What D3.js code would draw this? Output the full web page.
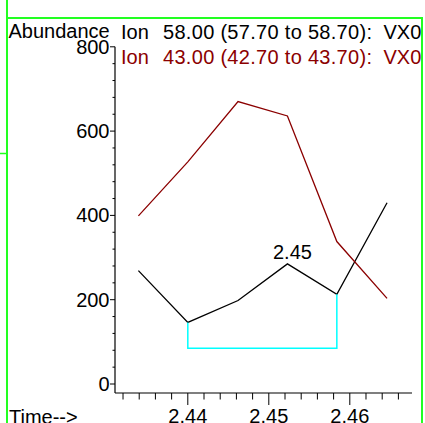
<!DOCTYPE html>
<html>
<head>
<meta charset="utf-8">
<script src="https://cdn.jsdelivr.net/npm/d3@7"></script>
<style>
  body { margin: 0; background: #fff; }
  svg { display: block; font-family: "Liberation Sans", Arial, sans-serif; }
</style>
</head>
<body>
<div class="chart"></div>
<script>
// retention times of the scans (minutes)
const times = [2.4339, 2.4400, 2.4462, 2.4523, 2.4584, 2.4646];
// ion 58 and ion 43 abundances
const ion58 = [269, 146, 198, 285, 213, 430];
const ion43 = [399, 527, 670, 636, 338, 203];
const ionNames = ['58.00 (57.70 to 58.70):', '43.00 (42.70 to 43.70):'];
const ionFile = 'VX0101.D\\data.ms';
const ionColors = ['#000000', '#8b0000'];
// integration baseline of ion 58
const baseIdx = [1, 4];
const baseLevel = 85;
const peakLabel = '2.45';
const yTicks = [0, 200, 400, 600, 800];
const yMinor = d3.range(0, 801, 40);
const xTicks = [2.44, 2.45, 2.46];
const xMinor = d3.range(2.432, 2.4661, 0.002);

const width = 425, height = 423;

const svg = d3.select('.chart')
    .append('svg')
    .attr('width', width)
    .attr('height', height);

const x = d3.scaleLinear().domain([2.43101, 2.46768]).range([115, 412]);
const y = d3.scaleLinear().domain([-21.35, 800]).range([393, 46.8]);

// green frame
const frame = svg.append('g').attr('stroke', '#22ff22').attr('fill', 'none');
frame.append('path').attr('stroke-width', 2).attr('d', 'M7,0V423M7,18H422V423');
frame.append('path').attr('stroke-width', 1.5).attr('d', 'M0,153.5H7');

svg.append('defs').append('clipPath').attr('id', 'clip')
    .append('rect').attr('x', 8).attr('y', 19).attr('width', 413).attr('height', 404);

const g = svg.append('g').attr('clip-path', 'url(#clip)');

// axes
g.append('line')
    .attr('x1', x.range()[0]).attr('x2', x.range()[0])
    .attr('y1', y(800)).attr('y2', y.range()[0])
    .attr('stroke', '#000').attr('stroke-width', 1.2);
g.append('line')
    .attr('x1', x.range()[0]).attr('x2', x.range()[1])
    .attr('y1', y.range()[0]).attr('y2', y.range()[0])
    .attr('stroke', '#000').attr('stroke-width', 1.2);

g.selectAll('.yminor')
    .data(yMinor)
    .enter()
    .append('line')
    .attr('x1', d => yTicks.includes(d) ? 110 : 112.5)
    .attr('x2', 115)
    .attr('y1', d => y(d)).attr('y2', d => y(d))
    .attr('stroke', '#000').attr('stroke-width', 1);

g.selectAll('.ylab')
    .data(yTicks)
    .enter()
    .append('text')
    .attr('x', 109.5)
    .attr('y', d => y(d) + 7)
    .attr('text-anchor', 'end')
    .attr('font-size', '20px')
    .text(d => d);

g.selectAll('.xminor')
    .data(xMinor)
    .enter()
    .append('line')
    .attr('x1', d => x(d)).attr('x2', d => x(d))
    .attr('y1', 393)
    .attr('y2', d => xTicks.some(t => Math.abs(t - d) < 1e-6) ? 405 : 399.5)
    .attr('stroke', '#000').attr('stroke-width', 1);

g.selectAll('.xlab')
    .data(xTicks)
    .enter()
    .append('text')
    .attr('x', d => x(d))
    .attr('y', 423)
    .attr('text-anchor', 'middle')
    .attr('font-size', '20px')
    .text(d => d.toFixed(2));

g.append('text').attr('x', 9).attr('y', 424).attr('font-size', '20px').text('Time-->');
g.append('text').attr('x', 8.5).attr('y', 38).attr('font-size', '20px').text('Abundance');

// ion titles
const titles = g.selectAll('.title')
    .data(ionNames)
    .enter()
    .append('text')
    .attr('y', (d, i) => 39 + i * 24.5)
    .attr('font-size', '20px')
    .attr('fill', (d, i) => ionColors[i]);
titles.append('tspan').attr('x', 121).text('Ion');
titles.append('tspan').attr('x', 163).attr('letter-spacing', '0.3px').text(d => d);
titles.append('tspan').attr('x', 383.5).text(ionFile);

// traces
const line = d3.line().x((d, i) => x(times[i])).y(d => y(d));
[ion58, ion43].forEach((s, k) => {
    g.append('path')
        .attr('d', line(s))
        .attr('fill', 'none')
        .attr('stroke', ionColors[k])
        .attr('stroke-width', 1.3);
});

// baseline
g.append('path')
    .attr('d', d3.line()([
        [x(times[baseIdx[0]]), y(ion58[baseIdx[0]])],
        [x(times[baseIdx[0]]), y(baseLevel)],
        [x(times[baseIdx[1]]), y(baseLevel)],
        [x(times[baseIdx[1]]), y(ion58[baseIdx[1]])]
    ]))
    .attr('fill', 'none')
    .attr('stroke', '#00ffff')
    .attr('stroke-width', 1.5);

// peak label
g.append('text')
    .attr('x', x(times[3]) + 5)
    .attr('y', y(ion58[3]) - 5)
    .attr('text-anchor', 'middle')
    .attr('font-size', '20px')
    .text(peakLabel);
</script>
</body>
</html>
